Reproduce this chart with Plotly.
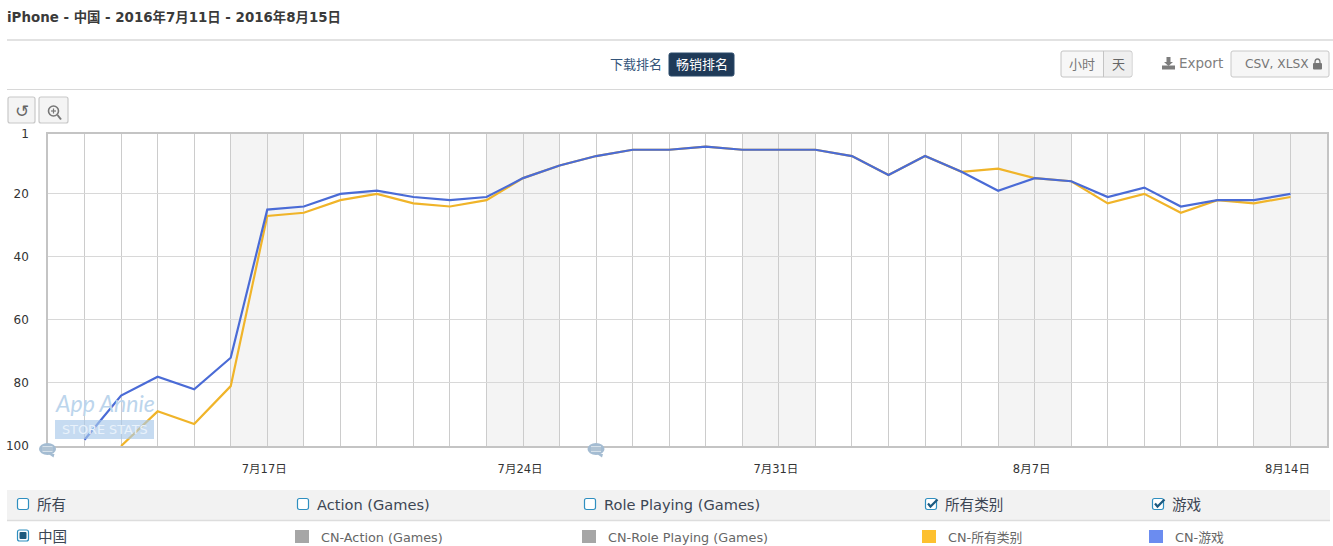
import plotly.graph_objects as go
import pandas as pd

W, H = 1333, 546
L, R, T, B = 48, 1327, 134, 446

start_date = "2016-07-11"
end_date = "2016-08-15"
dates_game = list(pd.date_range("2016-07-12", "2016-08-14").strftime("%Y-%m-%d"))
rank_game = [98, 84, 78, 82, 72, 25, 24, 20, 19, 21, 22, 21, 15, 11, 8, 6, 6, 5, 6, 6, 6, 8, 14, 8, 13, 19, 15, 16, 21, 18, 24, 22, 22, 20]
dates_all = dates_game[1:]
rank_all = [100, 89, 93, 81, 27, 26, 22, 20, 23, 24, 22, 15, 11, 8, 6, 6, 5, 6, 6, 6, 8, 14, 8, 13, 12, 15, 16, 23, 20, 26, 22, 23, 21]
y_ticks = [1, 20, 40, 60, 80, 100]
x_label_dates = ["2016-07-17", "2016-07-24", "2016-07-31", "2016-08-07", "2016-08-14"]
x_labels = ["7月17日", "7月24日", "7月31日", "8月7日", "8月14日"]
weekends = [("2016-07-16", "2016-07-18"), ("2016-07-23", "2016-07-25"), ("2016-07-30", "2016-08-01"),
            ("2016-08-06", "2016-08-08"), ("2016-08-13", "2016-08-15")]

FONT = "DejaVu Sans, Noto Sans CJK SC, sans-serif"
all_days = list(pd.date_range(start_date, end_date).strftime("%Y-%m-%d"))
ticktext = [x_labels[x_label_dates.index(d)] if d in x_label_dates else "" for d in all_days]

fig = go.Figure()
fig.add_trace(go.Scatter(x=dates_all, y=rank_all, mode="lines", name="CN-所有类别",
                         line=dict(color="#f0b429", width=2.2), hoverinfo="skip"))
fig.add_trace(go.Scatter(x=dates_game, y=rank_game, mode="lines", name="CN-游戏",
                         line=dict(color="#4a6bd6", width=2.2), hoverinfo="skip"))

shapes, annos = [], []
def px(x): return (x - L) / (R - L)
def py(y): return 1 - (y - T) / (B - T)

def rect(x0, y0, x1, y1, fill=None, line=None, lw=1, layer="above", opacity=1.0, r=0):
    if r:
        p = (f"M{px(x0+r)},{py(y0)} L{px(x1-r)},{py(y0)} Q{px(x1)},{py(y0)} {px(x1)},{py(y0+r)} "
             f"L{px(x1)},{py(y1-r)} Q{px(x1)},{py(y1)} {px(x1-r)},{py(y1)} L{px(x0+r)},{py(y1)} "
             f"Q{px(x0)},{py(y1)} {px(x0)},{py(y1-r)} L{px(x0)},{py(y0+r)} Q{px(x0)},{py(y0)} {px(x0+r)},{py(y0)} Z")
        shapes.append(dict(type="path", xref="paper", yref="paper", path=p, fillcolor=fill or "rgba(0,0,0,0)",
                           line=dict(color=line or "rgba(0,0,0,0)", width=lw), layer=layer, opacity=opacity))
    else:
        shapes.append(dict(type="rect", xref="paper", yref="paper", x0=px(x0), x1=px(x1), y0=py(y0), y1=py(y1),
                           fillcolor=fill or "rgba(0,0,0,0)", line=dict(color=line or "rgba(0,0,0,0)", width=lw),
                           layer=layer, opacity=opacity))

def seg(x0, y0, x1, y1, color, lw=1):
    shapes.append(dict(type="line", xref="paper", yref="paper", x0=px(x0), x1=px(x1), y0=py(y0), y1=py(y1),
                       line=dict(color=color, width=lw), layer="above"))

def path(points, fill=None, line=None, lw=1, close=True):
    p = "M" + " L".join(f"{px(a)},{py(b)}" for a, b in points) + (" Z" if close else "")
    shapes.append(dict(type="path", xref="paper", yref="paper", path=p, fillcolor=fill or "rgba(0,0,0,0)",
                       line=dict(color=line or "rgba(0,0,0,0)", width=lw), layer="above"))

def ell(x0, y0, x1, y1, fill=None, line=None, lw=1):
    shapes.append(dict(type="circle", xref="paper", yref="paper", x0=px(x0), x1=px(x1), y0=py(y0), y1=py(y1),
                       fillcolor=fill or "rgba(0,0,0,0)", line=dict(color=line or "rgba(0,0,0,0)", width=lw), layer="above"))

def text(x, y, s, size=13, color="#333", anchor="left", bold=False, font=FONT):
    annos.append(dict(xref="paper", yref="paper", x=px(x), y=py(y), text=f"<b>{s}</b>" if bold else s, showarrow=False,
                      xanchor=anchor, yanchor="middle", font=dict(size=size, color=color, family=font),
                      borderpad=0, borderwidth=0))

# weekend shading
for a, b in weekends:
    shapes.append(dict(type="rect", xref="x", yref="y", x0=a, x1=b, y0=100, y1=1,
                       fillcolor="#f4f4f4", line=dict(width=0), layer="below"))

# header
text(7, 16.5, "iPhone - 中国 - 2016年7月11日 - 2016年8月15日", size=13.4, color="#3a3a3a", bold=True)
seg(7, 40, W, 40, "#e2e2e2", 2)
seg(7, 89.5, W, 89.5, "#d8d8d8", 1)
text(610, 65, "下载排名", size=13, color="#34557a")
rect(669, 53, 734, 76, fill="#1f3a58", line="#2b4a6b", r=2)
text(701.5, 65, "畅销排名", size=13, color="#ffffff", anchor="center")

# hour / day buttons
rect(1061, 51, 1132, 77, fill="#f7f7f7", line="#c4c4c4", r=2)
rect(1103.5, 52, 1131.5, 76, fill="#efefef", r=1)
seg(1103.5, 51, 1103.5, 77, "#c4c4c4")
text(1082, 64.5, "小时", size=13, color="#777", anchor="center")
text(1118, 64.5, "天", size=13, color="#666", anchor="center")

# export
path([(1166.5, 57), (1170.5, 57), (1170.5, 62), (1173, 62), (1168.5, 66), (1164, 62), (1166.5, 62)], fill="#7d7d7d")
rect(1162, 65.5, 1175, 69.5, fill="#7d7d7d")
text(1179, 63, "Export", size=13.5, color="#808080")
rect(1231, 51, 1329, 77, fill="#f6f6f6", line="#c8c8c8", r=2)
text(1245, 64.5, "CSV, XLSX", size=12.2, color="#777")
rect(1313, 63, 1322, 69.5, fill="#777", r=1)
ell(1315, 59, 1320, 66, line="#777", lw=1.3)

# toolbar buttons
for x0, x1 in [(8, 35), (39, 68)]:
    rect(x0, 97, x1, 123, fill="#f4f4f4", line="#c8c8c8", lw=1.2, r=2)
text(21.5, 110.5, "↺", size=17, color="#666", anchor="center", font="DejaVu Sans")
ell(48.5, 106, 58.5, 116, line="#777", lw=1.6)
seg(57.5, 115, 61, 119.5, "#777", 2)
seg(51, 111, 56, 111, "#777", 1.2)
seg(53.5, 108.5, 53.5, 113.5, "#777", 1.2)

# watermark
text(105, 403, "<i>App Annie</i>", size=23, color="#bcd5ec", anchor="center", font="Lato, sans-serif")
rect(55, 420, 154, 439, fill="#a9c9ea", opacity=0.65)
text(104.5, 429.5, "STORE STATS", size=12.8, color="#e9f2fb", anchor="center")

# comment bubbles
for cx in (47.5, 596):
    ell(cx - 8.5, 443, cx + 8.5, 455, fill="#a4bcd2")
    path([(cx + 1, 454), (cx + 7, 454), (cx + 6, 457.5)], fill="#a4bcd2")
    rect(cx - 5, 446, cx + 5, 452, fill="#d6e1ea")
    seg(cx - 5, 448, cx + 5, 448, "#8aa5bd", 1)
    seg(cx - 5, 450, cx + 5, 450, "#8aa5bd", 1)

# legend table
rect(7, 490, 1330, 520, fill="#f2f2f2")
seg(7, 520.5, 1330, 520.5, "#dddddd", 1.5)

def box(x, y, checked=False):
    rect(x, y, x + 11, y + 11, fill="#ffffff", line="#2f8fc0", lw=1.2, r=2)
    if checked:
        path([(x + 2.5, y + 5), (x + 5, y + 8), (x + 12, y + 1)], line="#1d5a80", lw=2.2, close=False)

row1 = [(17.5, "所有", False), (297.5, "Action (Games)", False), (584.5, "Role Playing (Games)", False),
        (925.5, "所有类别", True), (1152.5, "游戏", True)]
for x, s, c in row1:
    box(x, 498.5, c)
    text(x + 19.5, 504.5, s, size=14.6, color="#3c4654")

rect(17.5, 530, 28.5, 541, fill="#ffffff", line="#2f8fc0", lw=1.2, r=2)
rect(19.5, 532, 26.5, 539, fill="#1d5a7d", r=1)
text(37.5, 536, "中国", size=14.6, color="#3c4654")

row2 = [(295, "CN-Action (Games)", "#a6a6a6"), (582, "CN-Role Playing (Games)", "#a6a6a6"),
        (922, "CN-所有类别", "#fdc02f"), (1149, "CN-游戏", "#6b8cf0")]
for x, s, col in row2:
    rect(x, 530, x + 14, 543, fill=col)
    text(x + 26, 537, s, size=12.8, color="#666")

fig.update_layout(
    width=W, height=H, autosize=False,
    margin=dict(l=L, r=W - R, t=T, b=H - B, pad=0, autoexpand=False),
    paper_bgcolor="#ffffff", plot_bgcolor="#ffffff",
    showlegend=False, shapes=shapes, annotations=annos,
    font=dict(family=FONT, size=12, color="#333"),
    xaxis=dict(type="date", range=[start_date, end_date], tickmode="array", tickvals=all_days, ticktext=ticktext,
               tickangle=0, showgrid=True, gridcolor="#cccccc", gridwidth=1, showline=True, linecolor="#c4c4c4",
               linewidth=1.5, mirror=True, ticks="", ticklabelstandoff=11, ticklabelshift=-3,
               tickfont=dict(size=11.5, color="#333"), zeroline=False),
    yaxis=dict(range=[100, 1], tickmode="array", tickvals=y_ticks, showgrid=True, gridcolor="#d8d8d8", gridwidth=1,
               showline=True, linecolor="#c4c4c4", linewidth=1.5, mirror=True, ticks="", ticklabelstandoff=15,
               tickfont=dict(size=12, color="#333"), zeroline=False),
)
fig.write_html("out.html", config=dict(displayModeBar=False),
               post_script="document.body.style.margin='0';document.body.style.overflow='hidden';")
